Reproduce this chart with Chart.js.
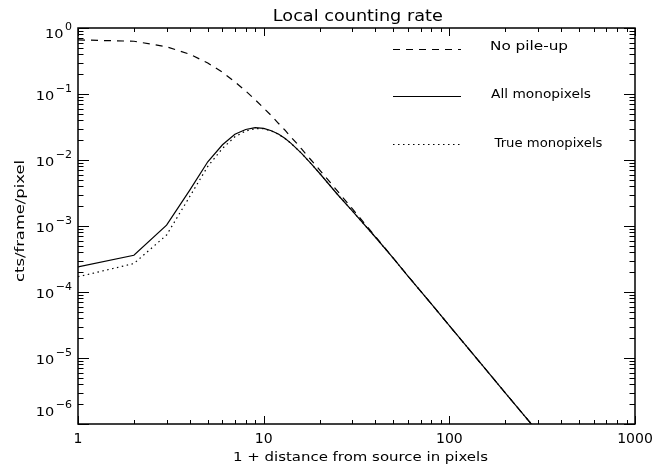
<!DOCTYPE html>
<html><head><meta charset="utf-8">
<script src="https://cdn.jsdelivr.net/npm/chart.js@4/dist/chart.umd.min.js"></script>
<style>html,body{margin:0;padding:0;background:#fff}canvas{display:block}</style>
</head><body>
<canvas id="c" width="666" height="466"></canvas>
<script>
// ---- data ----
const distance = [1,2,3,4,5,6,7,8,9,10,11,12,13,14,15,16,18,20,25,30,40,50,60,80,100,150,200,300];
const noPileUp = [0.66,0.63,0.52,0.40,0.295,0.213,0.153,0.111,0.082,0.0613,0.047,0.036,0.0285,0.0224,0.0182,0.0147,0.0100,0.0071,0.00337,0.00183,6.9e-4,3.24e-4,1.74e-4,6.6e-5,3.09e-5,7.85e-6,2.97e-6,7.6e-7];
const allMonopixels = [2.4e-4,3.6e-4,1.03e-3,3.5e-3,9.4e-3,1.7e-2,2.45e-2,2.9e-2,3.1e-2,3.02e-2,2.78e-2,2.48e-2,2.13e-2,1.8e-2,1.5e-2,1.26e-2,8.8e-3,6.3e-3,3.0e-3,1.7e-3,6.75e-4,3.22e-4,1.73e-4,6.6e-5,3.09e-5,7.85e-6,2.97e-6,7.6e-7];
const trueMonopixels = [1.7e-4,2.7e-4,7.3e-4,2.8e-3,8.0e-3,1.5e-2,2.25e-2,2.75e-2,2.98e-2,2.98e-2,2.75e-2,2.46e-2,2.12e-2,1.8e-2,1.5e-2,1.26e-2,8.8e-3,6.3e-3,3.0e-3,1.7e-3,6.75e-4,3.22e-4,1.73e-4,6.6e-5,3.09e-5,7.85e-6,2.97e-6,7.6e-7];
const xTickValues = [1,10,100,1000];
const xTickLabels = ['1','10','100','1000'];
const yTickValues = [1,1e-1,1e-2,1e-3,1e-4,1e-5,1e-6];
const yTickExponents = ['0','\u22121','\u22122','\u22123','\u22124','\u22125','\u22126'];
const titleText = 'Local counting rate';
const xTitle = '1 + distance from source in pixels';
const yTitle = 'cts/frame/pixel';
const legendLabels = ['No pile-up','All monopixels','True monopixels'];

const FONT = '"DejaVu Sans", sans-serif';
const pts = ys => distance.map((x,i)=>({x:x, y:ys[i]}));

function drawText(ctx, str, x, y, size, align, width){
  ctx.save();
  ctx.font = size + 'px ' + FONT;
  const w = ctx.measureText(str).width;
  const s = width ? width / w : 1;
  ctx.translate(x, y);
  ctx.scale(s, 1);
  ctx.textAlign = align;
  ctx.textBaseline = 'alphabetic';
  ctx.fillStyle = '#000';
  ctx.fillText(str, 0, 0);
  ctx.restore();
  return w * s;
}

const idlFrame = {
  id: 'idlFrame',
  afterDraw(chart){
    const ctx = chart.ctx, a = chart.chartArea, xs = chart.scales.x, ys = chart.scales.y;
    ctx.save();
    ctx.strokeStyle = '#000';
    ctx.lineWidth = 1.5;
    ctx.strokeRect(a.left, a.top, a.right - a.left, a.bottom - a.top);
    ctx.lineWidth = 1;
    const xMajor = 8, xMinor = 4, yMajor = 11, yMinor = 5.5;
    const tick = (x1,y1,x2,y2)=>{ctx.beginPath();ctx.moveTo(x1,y1);ctx.lineTo(x2,y2);ctx.stroke();};
    for (let d = 0; d < xTickValues.length; d++){
      const v = xTickValues[d];
      const px = Math.round(xs.getPixelForValue(v)) + 0.5;
      tick(px, a.bottom, px, a.bottom - xMajor);
      tick(px, a.top, px, a.top + xMajor);
      if (d < xTickValues.length - 1){
        for (let k = 2; k <= 9; k++){
          const mx = Math.round(xs.getPixelForValue(v*k)) + 0.5;
          tick(mx, a.bottom, mx, a.bottom - xMinor);
          tick(mx, a.top, mx, a.top + xMinor);
        }
      }
      drawText(ctx, xTickLabels[d], xs.getPixelForValue(v), 443, 14, 'center');
    }
    for (let d = 0; d < yTickValues.length; d++){
      const v = yTickValues[d];
      const py = Math.round(ys.getPixelForValue(v)) + 0.5;
      tick(a.left, py, a.left + yMajor, py);
      tick(a.right, py, a.right - yMajor, py);
      if (d > 0){
        for (let k = 2; k <= 9; k++){
          const my = Math.round(ys.getPixelForValue(v*k)) + 0.5;
          tick(a.left, my, a.left + yMinor, my);
          tick(a.right, my, a.right - yMinor, my);
        }
      }
      let shift = 0;
      if (d === 0) shift = 4.5;
      if (d === yTickValues.length - 1) shift = -14;
      const yp = ys.getPixelForValue(v) + shift;
      const ew = drawText(ctx, yTickExponents[d], 72, yp - 2.5, 11, 'right');
      drawText(ctx, '10', 72 - ew - 1.5, yp + 5.5, 13, 'right', 18.5);
    }
    drawText(ctx, titleText, 357.8, 20.7, 15, 'center', 170);
    drawText(ctx, xTitle, 360.5, 460.5, 13, 'center', 255);
    ctx.save();
    ctx.translate(24, 221);
    ctx.rotate(-Math.PI/2);
    drawText(ctx, yTitle, 0, 0, 13, 'center', 122);
    ctx.restore();
    const ds = chart.data.datasets;
    const legY = [49.5, 96.5, 144.5];
    const legTextY = [50, 98.3, 146.7];
    const legTextX = [490, 491, 494.5];
    const legTextW = [78, 100, 108];
    for (let i = 0; i < ds.length; i++){
      ctx.save();
      ctx.strokeStyle = ds[i].borderColor;
      ctx.lineWidth = ds[i].borderWidth;
      ctx.setLineDash(ds[i].borderDash || []);
      ctx.beginPath();
      ctx.moveTo(393, legY[i]);
      ctx.lineTo(461, legY[i]);
      ctx.stroke();
      ctx.restore();
      drawText(ctx, legendLabels[i], legTextX[i], legTextY[i], 13, 'left', legTextW[i]);
    }
    ctx.restore();
  }
};

new Chart(document.getElementById('c'), {
  type: 'line',
  data: { datasets: [
    { label: legendLabels[0], data: pts(noPileUp), borderColor: '#000', borderWidth: 1.2, borderDash: [7,6], pointRadius: 0, fill: false, tension: 0 },
    { label: legendLabels[1], data: pts(allMonopixels), borderColor: '#000', borderWidth: 1.2, pointRadius: 0, fill: false, tension: 0 },
    { label: legendLabels[2], data: pts(trueMonopixels), borderColor: '#000', borderWidth: 1.2, borderDash: [1.5,3.5], pointRadius: 0, fill: false, tension: 0 }
  ]},
  options: {
    responsive: false, animation: false, devicePixelRatio: 1,
    layout: { padding: { top: 28, right: 31, left: 0, bottom: 0 } },
    plugins: { legend: { display: false }, title: { display: false }, tooltip: { enabled: false } },
    scales: {
      x: { type: 'logarithmic', min: 1, max: 1000, grid: { display: false }, border: { display: false }, ticks: { display: false }, afterFit(s){ s.height = 42; } },
      y: { type: 'logarithmic', min: 1e-6, max: 1, grid: { display: false }, border: { display: false }, ticks: { display: false }, afterFit(s){ s.width = 78; } }
    }
  },
  plugins: [idlFrame]
});
</script>
</body></html>
